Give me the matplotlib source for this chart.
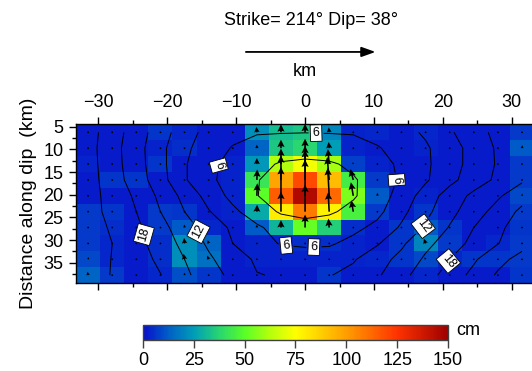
import numpy as np
import matplotlib
matplotlib.use("Agg")
import matplotlib.pyplot as plt
from matplotlib.colors import LinearSegmentedColormap
from matplotlib.ticker import MultipleLocator

plt.rcParams['font.family'] = ['Liberation Sans', 'DejaVu Sans']

# ---------------- data ----------------
strike_km = [-31.5, -28, -24.5, -21, -17.5, -14, -10.5, -7, -3.5, 0,
             3.5, 7, 10.5, 14, 17.5, 21, 24.5, 28, 31.5]
dip_km = [6.25, 9.75, 13.25, 16.75, 20.25, 23.75, 27.25, 30.75, 34.25, 37.75]

# slip (cm) per subfault, rows = dip, columns = strike
slip_cm = [
    [2, 2, 2, 6, 4, 2, 2, 22, 32, 34, 20, 3, 4, 2, 4, 2, 2, 2, 7],
    [2, 2, 2, 3, 5, 2, 2, 14, 34, 38, 25, 3, 2, 2, 3, 2, 2, 2, 12],
    [3, 2, 2, 6, 2, 2, 3, 24, 62, 73, 60, 8, 3, 2, 2, 2, 2, 2, 7],
    [2, 6, 6, 2, 2, 2, 3, 42, 98, 120, 92, 45, 7, 2, 2, 2, 2, 2, 7],
    [2, 2, 2, 2, 2, 2, 3, 50, 115, 145, 112, 55, 12, 2, 3, 2, 2, 2, 9],
    [7, 6, 2, 7, 6, 2, 3, 28, 80, 108, 78, 46, 7, 2, 6, 2, 2, 2, 7],
    [7, 5, 2, 7, 12, 4, 2, 12, 30, 52, 36, 5, 2, 6, 12, 6, 2, 2, 6],
    [7, 4, 2, 5, 22, 14, 2, 3, 3, 5, 5, 3, 2, 6, 20, 7, 2, 4, 7],
    [9, 4, 2, 5, 22, 16, 2, 3, 3, 3, 3, 3, 4, 6, 9, 4, 6, 6, 7],
    [14, 7, 2, 4, 10, 6, 2, 2, 2, 2, 6, 2, 2, 2, 4, 2, 2, 2, 6],
]

# rake (degrees) per subfault
rake_deg = [
    [100, 80, 120, 90, 70, 90, 60, 95, 90, 90, 95, 100, 80, 90, 110, 70, 90, 60, 95],
    [90, 110, 80, 60, 100, 90, 120, 90, 90, 90, 95, 100, 70, 90, 80, 100, 60, 90, 85],
    [80, 90, 100, 70, 90, 120, 90, 90, 90, 90, 95, 105, 90, 60, 100, 90, 120, 80, 90],
    [90, 70, 90, 110, 80, 90, 100, 88, 90, 90, 95, 105, 80, 90, 70, 110, 90, 100, 90],
    [100, 90, 60, 90, 120, 80, 90, 88, 90, 90, 93, 100, 90, 110, 90, 80, 60, 90, 85],
    [90, 80, 100, 90, 70, 90, 110, 88, 90, 90, 93, 100, 95, 90, 80, 100, 90, 120, 90],
    [85, 100, 90, 80, 95, 100, 90, 90, 90, 90, 95, 100, 90, 70, 100, 90, 110, 90, 80],
    [90, 110, 70, 100, 95, 105, 90, 80, 100, 90, 90, 110, 90, 100, 110, 90, 80, 100, 90],
    [80, 90, 100, 90, 100, 110, 70, 90, 120, 90, 100, 90, 80, 90, 120, 100, 90, 70, 95],
    [100, 80, 90, 110, 90, 100, 90, 60, 90, 110, 90, 100, 90, 80, 100, 90, 110, 90, 85],
]

# rupture time (s) per subfault
rupture_s = [
    [22.2, 19.4, 16.5, 13.4, 10.3, 8.0, 6.9, 6.15, 6.1, 6.05, 6.1, 6.15, 6.9, 8.0, 9.4, 11.6, 13.8, 15.8, 17.7],
    [22.1, 19.1, 16.2, 12.8, 9.6, 7.5, 5.8, 5.2, 4.7, 4.5, 4.7, 5.2, 5.8, 7.0, 8.6, 10.7, 13.1, 15.4, 17.2],
    [22.2, 19.2, 16.3, 12.9, 9.3, 6.6, 5.2, 3.9, 2.7, 2.3, 2.6, 3.6, 5.0, 6.5, 8.5, 10.7, 13.1, 15.3, 17.5],
    [22.3, 19.4, 16.6, 13.2, 9.3, 6.6, 4.8, 3.2, 1.4, 0.7, 1.3, 2.7, 4.4, 6.4, 8.6, 11.2, 13.5, 15.6, 17.6],
    [22.2, 19.9, 17.5, 14.3, 11.1, 7.9, 5.1, 3.1, 1.4, 0.7, 1.3, 2.7, 4.6, 7.1, 10.4, 13.3, 15.7, 17.6, 19.8],
    [22.2, 20.1, 18.0, 15.0, 12.0, 9.2, 6.7, 4.3, 2.7, 2.3, 2.6, 3.8, 5.2, 8.2, 11.2, 14.1, 16.7, 19.1, 21.7],
    [22.5, 20.6, 18.6, 16.0, 13.3, 10.7, 8.5, 6.5, 4.7, 3.9, 4.5, 5.2, 6.8, 9.4, 12.4, 15.2, 18.0, 20.3, 22.6],
    [23.0, 21.0, 19.0, 16.6, 14.2, 11.5, 9.0, 7.2, 5.8, 5.5, 5.6, 6.9, 8.7, 11.5, 14.2, 16.4, 18.9, 20.9, 23.0],
    [22.6, 20.9, 19.5, 17.3, 15.0, 12.5, 10.3, 8.6, 7.9, 7.5, 7.7, 8.7, 10.9, 12.8, 15.5, 18.0, 20.6, 23.1, 25.0],
    [22.8, 20.8, 20.1, 18.1, 15.6, 13.4, 11.2, 9.1, 8.8, 8.7, 8.85, 9.9, 11.6, 14.1, 16.6, 19.4, 21.8, 24.4, 26.5],
]

plain_levels = [3, 9, 15, 21, 24]
labelled_levels = [6, 12, 18]
label_spots = [(-12.9, 13.5), (1.6, 6.5), (13.4, 16.8), (-2.8, 32.0), (1.3, 32.4),
               (-15.7, 28.3), (17.0, 26.8), (-23.9, 29.0), (20.6, 34.4)]

x_ticks = [-30, -20, -10, 0, 10, 20, 30]
y_ticks = [5, 10, 15, 20, 25, 30, 35]
cbar_ticks = [0, 25, 50, 75, 100, 125, 150]

# ---------------- figure ----------------
cmap = LinearSegmentedColormap.from_list("slip", [
    (0.0, (0.03, 0.06, 0.80)),
    (12 / 150, (0.00, 0.36, 0.78)),
    (25 / 150, (0.00, 0.62, 0.72)),
    (37 / 150, (0.15, 0.83, 0.45)),
    (50 / 150, (0.35, 1.00, 0.15)),
    (62 / 150, (0.70, 1.00, 0.05)),
    (75 / 150, (1.00, 1.00, 0.00)),
    (100 / 150, (1.00, 0.62, 0.00)),
    (125 / 150, (1.00, 0.20, 0.00)),
    (1.0, (0.62, 0.00, 0.00)),
])

fig = plt.figure(figsize=(5.32, 3.71), dpi=100)
ax = fig.add_axes([0.1430, 0.2369, 0.8609, 0.4278])

xc = np.array(strike_km)
yc = np.array(dip_km)
S = np.array(slip_cm, dtype=float)
R = np.radians(np.array(rake_deg, dtype=float))
T = np.array(rupture_s)

dx = xc[1] - xc[0]
dy = yc[1] - yc[0]
xe = np.append(xc - dx / 2, xc[-1] + dx / 2)
ye = np.append(yc - dy / 2, yc[-1] + dy / 2)

mesh = ax.pcolormesh(xe, ye, S, cmap=cmap, vmin=0, vmax=150, shading='flat', zorder=1)

ax.contour(xc, yc, T, levels=plain_levels, colors='black', linewidths=0.7, zorder=2)
cs = ax.contour(xc, yc, T, levels=labelled_levels, colors='black', linewidths=0.7, zorder=2)
lbls = ax.clabel(cs, inline=True, fmt='%d', fontsize=9,
                 inline_spacing=4, manual=label_spots)
for t in lbls:
    t.set_bbox(dict(boxstyle='square,pad=0.18', fc='white', ec='black', lw=0.6))
    t.set_zorder(6)

XX, YY = np.meshgrid(xc, yc)
U = S * np.cos(R)
V = S * np.sin(R)
ax.quiver(XX, YY, U, V, angles='uv', scale_units='dots', scale=4.0, pivot='tail',
          units='dots', width=1.6, headwidth=4.5, headlength=4.6, headaxislength=4.0,
          minlength=1.2, color='black', zorder=4)

ax.set_xlim(xe[0], xe[-1])
ax.set_ylim(ye[-1], ye[0])
ax.set_xticks(x_ticks)
ax.set_yticks(y_ticks)
ax.xaxis.set_minor_locator(MultipleLocator(5))
ax.yaxis.set_minor_locator(MultipleLocator(2.5))
ax.tick_params(axis='x', which='both', top=True, bottom=True, labeltop=True,
               labelbottom=False, direction='out')
ax.tick_params(axis='y', which='both', left=True, right=True, direction='out')
ax.tick_params(which='major', length=5, width=1, labelsize=13)
ax.tick_params(axis='x', which='major', pad=5)
ax.tick_params(axis='y', which='major', pad=4)
ax.tick_params(which='minor', length=3, width=1)
for sp in ax.spines.values():
    sp.set_linewidth(1)
ax.set_ylabel('Distance along dip  (km)', fontsize=14, labelpad=5)

fig.text(0.584, 0.946, 'Strike= 214° Dip= 38°', ha='center', va='center', fontsize=13)
fig.text(0.573, 0.806, 'km', ha='center', va='center', fontsize=13)
fig.add_artist(matplotlib.patches.FancyArrowPatch(
    (0.457, 0.86), (0.711, 0.86), transform=fig.transFigure,
    arrowstyle='-|>,head_length=0.7,head_width=0.25', mutation_scale=12,
    lw=1.3, color='black'))

cax = fig.add_axes([0.2688, 0.0844, 0.5733, 0.0404])
cb = fig.colorbar(mesh, cax=cax, orientation='horizontal', ticks=cbar_ticks)
cb.outline.set_edgecolor('#404040')
cb.outline.set_linewidth(1)
cax.tick_params(length=6, width=1, color='#404040', labelsize=13, pad=3)
fig.text(0.880, 0.108, 'cm', ha='center', va='center', fontsize=13)

fig.savefig('out.png', dpi=100)
